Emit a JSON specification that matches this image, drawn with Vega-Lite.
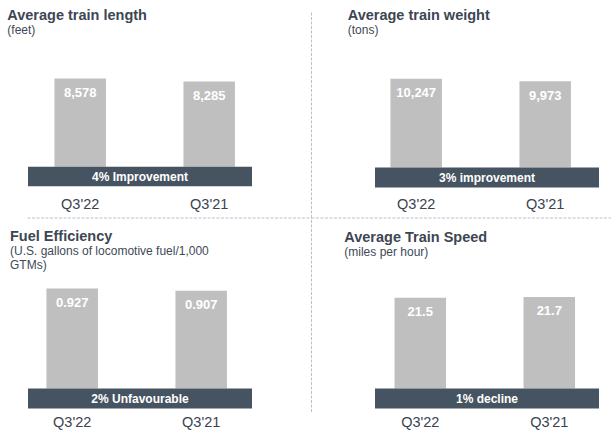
{
  "$schema": "https://vega.github.io/schema/vega-lite/v6.json",
  "padding": {"left": 7, "top": 7.5, "right": 0, "bottom": 0},
  "autosize": {"type": "pad"},
  "background": "white",
  "columns": 2,
  "spacing": {"row": 0, "column": 123},
  "bounds": "flush",
  "config": {
    "view": {"stroke": null},
    "font": "Liberation Sans",
    "axis": {"grid": false}
  },
  "datasets": {
    "length": [{"period": "Q3'22", "value": 8578}, {"period": "Q3'21", "value": 8285}],
    "weight": [{"period": "Q3'22", "value": 10247}, {"period": "Q3'21", "value": 9973}],
    "fuel": [{"period": "Q3'22", "value": 0.927}, {"period": "Q3'21", "value": 0.907}],
    "speed": [{"period": "Q3'22", "value": 21.5}, {"period": "Q3'21", "value": 21.7}]
  },
  "concat": [
    {
      "width": 224, "height": 206,
      "title": {"text": "Average train length", "subtitle": "(feet)", "dx": -20.7, "offset": -25, "anchor": "start", "frame": "group", "fontSize": 14.5, "fontWeight": "bold", "color": "#3d4653", "subtitleFontSize": 12, "subtitleColor": "#404a56", "subtitlePadding": 1.5, "subtitleLineHeight": 14},
      "data": {"name": "length"},
      "layer": [
        {
          "mark": {"type": "bar", "color": "#bfbfbf"},
          "encoding": {
            "x": {"field": "period", "type": "nominal", "sort": null,
              "scale": {"type": "band", "paddingInner": 0.6008, "paddingOuter": 0.1686, "align": 0.608},
              "axis": {"orient": "bottom", "title": null, "domain": false, "ticks": false, "tickSize": 0, "labelPadding": 0, "offset": -9, "labelFontSize": 14.5, "labelColor": "#3a4350", "labelBaseline": "alphabetic", "labelAngle": 0}},
            "y": {"field": "value", "type": "quantitative", "scale": {"domain": [-4925, 15087], "nice": false, "zero": false}, "axis": null},
            "y2": {"datum": 0}
          }
        },
        {
          "mark": {"type": "text", "color": "white", "fontSize": 13, "fontWeight": "bold", "baseline": "alphabetic", "dy": 18.5},
          "encoding": {
            "x": {"field": "period", "type": "nominal", "sort": null},
            "y": {"field": "value", "type": "quantitative"},
            "text": {"field": "value", "type": "quantitative", "format": ","}
          }
        },
        {
          "data": {"values": [{"note": "4% Improvement"}]},
          "mark": {"type": "rect", "color": "#465462"},
          "encoding": {"y": {"datum": 0}, "y2": {"datum": -1885}}
        },
        {
          "data": {"values": [{"note": "4% Improvement"}]},
          "mark": {"type": "text", "color": "white", "fontSize": 12, "fontWeight": "bold", "baseline": "alphabetic", "dy": 4.3},
          "encoding": {"y": {"datum": -942}, "text": {"field": "note"}}
        }
      ]
    },
    {
      "width": 224, "height": 206,
      "title": {"text": "Average train weight", "subtitle": "(tons)", "dx": -27.3, "offset": -25, "anchor": "start", "frame": "group", "fontSize": 14.5, "fontWeight": "bold", "color": "#3d4653", "subtitleFontSize": 12, "subtitleColor": "#404a56", "subtitlePadding": 1.5, "subtitleLineHeight": 14},
      "data": {"name": "weight"},
      "layer": [
        {
          "mark": {"type": "bar", "color": "#bfbfbf"},
          "encoding": {
            "x": {"field": "period", "type": "nominal", "sort": null,
              "scale": {"type": "band", "paddingInner": 0.6008, "paddingOuter": 0.1686, "align": 0.355},
              "axis": {"orient": "bottom", "title": null, "domain": false, "ticks": false, "tickSize": 0, "labelPadding": 0, "offset": -9, "labelFontSize": 14.5, "labelColor": "#3a4350", "labelBaseline": "alphabetic", "labelAngle": 0}},
            "y": {"field": "value", "type": "quantitative", "scale": {"domain": [-5776, 18022], "nice": false, "zero": false},
              "axis": {"orient": "left", "offset": 64, "title": null, "labels": false, "ticks": false, "domain": true, "domainColor": "#b9c0c8", "domainDash": [3, 1.5], "domainWidth": 1}},
            "y2": {"datum": 0}
          }
        },
        {
          "mark": {"type": "text", "color": "white", "fontSize": 13, "fontWeight": "bold", "baseline": "alphabetic", "dy": 18.5},
          "encoding": {
            "x": {"field": "period", "type": "nominal", "sort": null},
            "y": {"field": "value", "type": "quantitative"},
            "text": {"field": "value", "type": "quantitative", "format": ","}
          }
        },
        {
          "data": {"values": [{"note": "3% improvement"}]},
          "mark": {"type": "rect", "color": "#465462"},
          "encoding": {"y": {"datum": 0}, "y2": {"datum": -2311}}
        },
        {
          "data": {"values": [{"note": "3% improvement"}]},
          "mark": {"type": "text", "color": "white", "fontSize": 12, "fontWeight": "bold", "baseline": "alphabetic", "dy": 4.3},
          "encoding": {"y": {"datum": -1155}, "text": {"field": "note"}}
        }
      ]
    },
    {
      "width": 224, "height": 194,
      "title": {"text": "Fuel Efficiency", "subtitle": ["(U.S. gallons of locomotive fuel/1,000", "GTMs)"], "dx": -18, "offset": -55, "anchor": "start", "frame": "group", "fontSize": 14.5, "fontWeight": "bold", "color": "#3d4653", "subtitleFontSize": 12, "subtitleColor": "#404a56", "subtitlePadding": 1.5, "subtitleLineHeight": 14},
      "data": {"name": "fuel"},
      "layer": [
        {
          "mark": {"type": "bar", "color": "#bfbfbf"},
          "encoding": {
            "x": {"field": "period", "type": "nominal", "sort": null,
              "scale": {"type": "band", "paddingInner": 0.6008, "paddingOuter": 0.1686, "align": 0.424},
              "axis": {"orient": "bottom", "title": null, "domain": false, "ticks": false, "tickSize": 0, "labelPadding": 15.3, "offset": 0, "labelFontSize": 14.5, "labelColor": "#3a4350", "labelBaseline": "alphabetic", "labelAngle": 0}},
            "y": {"field": "value", "type": "quantitative", "scale": {"domain": [-0.2132, 1.5852], "nice": false, "zero": false},
              "axis": {"orient": "left", "offset": 1, "title": null, "labels": false, "domain": false, "ticks": true, "values": [1.5852], "tickSize": -284, "tickColor": "#b9c0c8", "tickDash": [3, 1.5], "tickWidth": 1}},
            "y2": {"datum": 0}
          }
        },
        {
          "mark": {"type": "text", "color": "white", "fontSize": 13, "fontWeight": "bold", "baseline": "alphabetic", "dy": 18.5},
          "encoding": {
            "x": {"field": "period", "type": "nominal", "sort": null},
            "y": {"field": "value", "type": "quantitative"},
            "text": {"field": "value", "type": "quantitative", "format": ".3f"}
          }
        },
        {
          "data": {"values": [{"note": "2% Unfavourable"}]},
          "mark": {"type": "rect", "color": "#465462"},
          "encoding": {"y": {"datum": 0}, "y2": {"datum": -0.1854}}
        },
        {
          "data": {"values": [{"note": "2% Unfavourable"}]},
          "mark": {"type": "text", "color": "white", "fontSize": 12, "fontWeight": "bold", "baseline": "alphabetic", "dy": 4.3},
          "encoding": {"y": {"datum": -0.0927}, "text": {"field": "note"}}
        }
      ]
    },
    {
      "width": 224, "height": 194,
      "title": {"text": "Average Train Speed", "subtitle": "(miles per hour)", "dx": -30.7, "offset": -42, "anchor": "start", "frame": "group", "fontSize": 14.5, "fontWeight": "bold", "color": "#3d4653", "subtitleFontSize": 12, "subtitleColor": "#404a56", "subtitlePadding": 1.5, "subtitleLineHeight": 14},
      "data": {"name": "speed"},
      "layer": [
        {
          "mark": {"type": "bar", "color": "#bfbfbf"},
          "encoding": {
            "x": {"field": "period", "type": "nominal", "sort": null,
              "scale": {"type": "band", "paddingInner": 0.6008, "paddingOuter": 0.1686, "align": 0.449},
              "axis": {"orient": "bottom", "title": null, "domain": false, "ticks": false, "tickSize": 0, "labelPadding": 15.3, "offset": 0, "labelFontSize": 14.5, "labelColor": "#3a4350", "labelBaseline": "alphabetic", "labelAngle": 0}},
            "y": {"field": "value", "type": "quantitative", "scale": {"domain": [-5.448, 40.5], "nice": false, "zero": false},
              "axis": {"orient": "left", "offset": 64, "title": null, "labels": false, "domain": true, "domainColor": "#b9c0c8", "domainDash": [3, 1.5], "domainWidth": 1, "ticks": true, "values": [40.5], "tickSize": -300, "tickColor": "#b9c0c8", "tickDash": [3, 1.5], "tickWidth": 1}},
            "y2": {"datum": 0}
          }
        },
        {
          "mark": {"type": "text", "color": "white", "fontSize": 13, "fontWeight": "bold", "baseline": "alphabetic", "dy": 18.5},
          "encoding": {
            "x": {"field": "period", "type": "nominal", "sort": null},
            "y": {"field": "value", "type": "quantitative"},
            "text": {"field": "value", "type": "quantitative", "format": ".1f"}
          }
        },
        {
          "data": {"values": [{"note": "1% decline"}]},
          "mark": {"type": "rect", "color": "#465462"},
          "encoding": {"y": {"datum": 0}, "y2": {"datum": -4.737}}
        },
        {
          "data": {"values": [{"note": "1% decline"}]},
          "mark": {"type": "text", "color": "white", "fontSize": 12, "fontWeight": "bold", "baseline": "alphabetic", "dy": 4.3},
          "encoding": {"y": {"datum": -2.369}, "text": {"field": "note"}}
        }
      ]
    }
  ]
}
